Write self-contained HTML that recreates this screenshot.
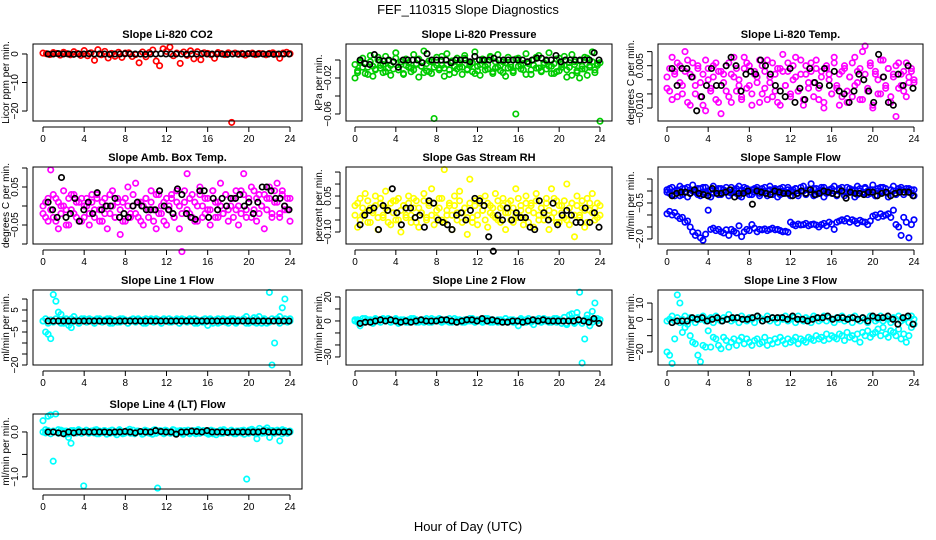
<!DOCTYPE html>
<html><head><meta charset="utf-8"><style>
html,body{margin:0;padding:0;background:#fff;}
svg{display:block;font-family:"Liberation Sans",sans-serif;}
</style></head><body>
<svg id="chart" width="936" height="540" viewBox="0 0 936 540">
<rect x="0" y="0" width="936" height="540" fill="#fff"/>
<text x="468" y="14" text-anchor="middle" font-size="13">FEF_110315  Slope Diagnostics</text>
<text x="468" y="531" text-anchor="middle" font-size="13">Hour of Day (UTC)</text>
</svg>
<script>
// ---------- data ----------
const hourTicks = [0,4,8,12,16,20,24];
const panelTitles = ["Slope Li-820 CO2","Slope Li-820 Pressure","Slope Li-820 Temp.","Slope Amb. Box Temp.","Slope Gas Stream RH","Slope Sample Flow","Slope Line 1 Flow","Slope Line 2 Flow","Slope Line 3 Flow","Slope Line 4 (LT) Flow"];
const yAxisTitles = ["Licor ppm per min.","kPa per min.","degrees C per min.","degrees C per min.","percent per min.","ml/min per min.","ml/min per min.","ml/min per min.","ml/min per min.","ml/min per min."];

const co2Red = [0.3,0.1,-0.2,0.5,0.2,-0.4,0.6,0.1,-0.3,0.8,0.2,-0.5,1.2,-0.6,0.4,-2.2,1.5,-0.3,0.9,-1.4,0.2,-0.8,0.6,-1.2,0.3,0.4,-0.9,-0.2,-3.1,0.7,-1.0,0.5,1.4,-2.5,-4.1,1.8,0.9,2.4,-0.6,0.3,-3.3,0.7,-0.5,1.1,-1.7,0.8,-2.0,0.4,0.2,-0.3,-1.5,0.5,0.1,-0.2,0.4,-24.0,0.3,-0.1,0.2,-0.4,0.1,0.3,-0.2,0.2,0.1,-0.3,0.2,0.4,-0.1,-1.5,0.3,0.6,0.1];
const co2Black = [0,0,0.1,0,0,-0.1,0,0,0.1,0,0,0,-0.1,0,0,0.1,0,0,0,-0.1,0,0,0.1,0,0,0,0,-0.1,0,0,0.1,0,0,0,0,-0.1,0,0,0,0.1,0,0,0,0,-0.1,0,0,0];

const pressGreen = [-0.020,-0.012,-0.003,0.002,-0.015,-0.008,0.005,-0.018,-0.010,0.000,-0.006,-0.014,0.004,-0.009,-0.017,-0.002,0.008,-0.011,-0.005,-0.016,0.001,-0.008,-0.013,0.006,-0.004,-0.019,-0.007,0.010,-0.012,-0.001,-0.015,-0.065,0.003,-0.009,-0.006,-0.018,0.007,-0.011,-0.003,-0.014,0.002,-0.008,-0.016,0.005,-0.010,-0.004,-0.013,0.009,-0.007,-0.017,0.001,-0.011,-0.005,0.004,-0.015,-0.009,0.006,-0.012,-0.002,-0.018,0.003,-0.008,-0.014,-0.060,0.002,-0.006,-0.011,0.007,-0.004,-0.016,0.000,-0.009,0.005,-0.013,-0.003,-0.010,0.008,-0.007,-0.015,0.001,-0.012,-0.005,0.004,-0.019,-0.008,0.006,-0.002,-0.014,-0.020,-0.010,0.003,-0.017,-0.006,0.009,-0.011,-0.004,-0.068];
const pressGreen2 = [-0.005,-0.014,-0.001,-0.008,-0.004,-0.016,-0.002,-0.007,-0.011,0.003,-0.009,-0.005,-0.013,-0.001,-0.006,-0.010,0.002,-0.008,-0.002,-0.015,-0.006,-0.003,-0.009,-0.011,-0.005,0.001,-0.007,-0.014,-0.004,-0.013,-0.002,-0.008,-0.006,-0.011,0.004,-0.009,-0.005,-0.016,-0.001,-0.007,-0.010,-0.004,-0.008,0.002,-0.011,-0.006,-0.003,-0.015,-0.012,-0.005,-0.001,-0.007,-0.010,0.003,-0.013,-0.002,-0.008,-0.006,-0.014,-0.003,-0.009,-0.005,-0.012,0.001,-0.007,-0.010,-0.004,-0.016,-0.002,-0.011,-0.006,0.003,-0.009,-0.012,-0.005,-0.001,-0.007,-0.015,-0.004,-0.013,0.002,-0.008,-0.006,-0.011,-0.003,-0.017,-0.005,-0.012,-0.001,-0.007,-0.010,0.002,-0.008,-0.002,-0.014,-0.006,-0.003];
const pressBlack = [0.000,-0.004,-0.005,0.006,0.000,-0.001,0.000,-0.002,-0.008,0.000,0.000,0.000,0.000,-0.003,0.007,0.000,0.000,0.000,0.000,-0.003,0.000,0.000,0.000,-0.002,0.004,0.000,0.000,0.000,0.002,0.000,0.000,0.000,0.000,0.000,0.000,-0.002,0.000,0.002,0.002,0.000,0.000,0.005,-0.002,0.000,0.000,0.000,0.000,0.000,0.000,0.008,0.000];

const tempMag = [0.001,-0.004,0.008,0.003,-0.006,0.005,-0.002,0.010,-0.008,0.002,0.006,-0.005,0.004,-0.001,-0.009,0.007,0.000,-0.003,0.005,-0.007,0.003,-0.012,0.002,-0.004,0.006,-0.008,0.001,0.004,-0.002,-0.006,0.008,-0.003,0.005,-0.009,0.002,-0.001,0.007,-0.005,0.003,-0.007,0.001,0.006,-0.004,-0.008,0.004,0.009,-0.002,0.003,-0.006,0.005,0.001,-0.004,0.007,-0.009,0.002,-0.003,0.006,-0.001,0.004,-0.007,0.003,-0.010,0.005,0.000,-0.005,0.008,-0.003,0.002,-0.006,0.004,-0.008,0.001,0.006,-0.002,0.003,-0.007,0.010,0.012,-0.004,0.005,-0.009,0.002,-0.005,0.007,0.001,-0.003,0.004,-0.008,0.002,-0.013,0.006,-0.002,0.003,-0.006,0.001,0.004,-0.001];
const tempMag2 = [-0.003,0.004,-0.007,0.002,0.006,-0.001,-0.005,0.003,0.007,-0.009,0.001,-0.002,0.005,-0.006,0.002,-0.011,0.004,-0.004,0.001,0.006,-0.008,0.003,-0.001,0.005,-0.006,0.002,0.008,-0.004,0.000,-0.007,0.004,0.006,-0.002,-0.005,0.003,0.001,-0.008,0.005,-0.003,0.007,-0.001,-0.006,0.002,0.004,-0.009,0.003,-0.002,0.006,-0.005,0.000,0.008,-0.004,0.002,-0.007,0.005,-0.001,0.003,-0.006,0.007,-0.003,0.001,-0.008,0.004,0.002,-0.005,0.006,-0.002,-0.009,0.003,0.005,-0.004,0.001,-0.006,0.008,-0.001,0.004,-0.007,0.002,-0.003,0.006,-0.010,0.003,0.000,-0.005,0.007,-0.002,0.004,-0.006,0.001,0.005,-0.003,0.002,-0.004,0.006,-0.001,0.003,0.000];
const tempBlack = [0.004,-0.002,0.004,0.004,0.001,-0.011,-0.006,-0.002,0.004,-0.002,-0.002,0.005,0.008,0.005,-0.004,0.002,0.003,0.002,0.007,0.005,0.002,-0.002,-0.004,-0.006,0.004,-0.008,-0.003,-0.007,0.004,-0.001,-0.002,0.004,-0.002,0.003,-0.004,-0.005,-0.008,-0.004,0.002,0.000,-0.004,-0.008,0.009,0.001,-0.008,-0.009,0.002,-0.002,0.005,-0.003];

const ambMag = [-0.02,0.01,-0.04,0.095,-0.03,0.02,-0.06,0.00,0.04,-0.01,-0.05,0.03,-0.02,0.01,-0.04,0.02,-0.03,0.00,-0.05,0.03,-0.01,0.02,-0.04,0.01,-0.02,-0.06,0.03,0.00,-0.03,0.02,-0.075,0.01,-0.04,0.05,-0.02,0.00,0.06,-0.03,0.01,-0.05,0.02,-0.01,0.04,-0.04,-0.06,0.03,-0.02,0.01,-0.05,0.00,0.02,-0.03,0.04,-0.06,-0.12,0.01,0.085,-0.02,0.03,-0.04,0.00,0.05,-0.03,0.02,-0.01,-0.05,0.04,0.01,-0.03,0.06,-0.02,0.03,-0.04,0.00,0.02,-0.01,-0.05,0.04,0.085,-0.03,0.02,0.05,-0.01,-0.04,0.03,0.00,-0.06,0.02,0.05,-0.02,0.01,0.06,-0.03,0.04,-0.01,0.02,-0.04];
const ambMag2 = [0.00,-0.03,0.02,-0.01,0.03,-0.04,0.01,-0.02,0.00,-0.05,0.02,-0.01,0.03,-0.03,0.01,-0.04,0.00,0.02,-0.02,0.01,-0.03,0.03,-0.01,-0.04,0.02,0.00,-0.02,0.04,-0.03,0.01,-0.01,-0.04,0.02,0.00,-0.03,0.03,-0.02,0.01,-0.04,0.00,0.02,-0.03,0.01,-0.01,0.03,-0.02,0.00,-0.04,0.02,-0.01,0.03,-0.03,0.01,0.00,-0.02,0.04,-0.01,0.02,-0.03,0.01,-0.04,0.03,0.00,-0.02,0.02,-0.01,0.04,-0.03,0.01,0.00,-0.02,0.03,-0.01,0.02,-0.03,0.04,0.00,-0.02,0.03,-0.01,0.01,-0.03,0.04,0.02,-0.02,0.00,0.03,-0.01,0.02,-0.03,0.04,0.01,-0.02,0.03,0.00,-0.01,0.02];
const ambBlack = [0.01,-0.01,-0.03,0.075,-0.03,-0.02,0.02,-0.04,-0.01,0.01,-0.02,0.035,-0.01,0.00,0.00,0.02,-0.03,-0.02,-0.03,0.00,0.01,0.00,-0.01,-0.01,-0.01,0.04,0.00,-0.01,-0.02,0.045,0.03,-0.02,-0.03,-0.035,0.04,0.04,-0.03,0.02,-0.01,0.02,0.00,0.02,0.02,0.03,0.00,0.01,-0.02,0.01,0.05,0.05,0.04,0.02,0.02,0.00,-0.01];

const rhYellow = [0.01,-0.08,0.04,-0.03,0.06,-0.06,0.00,-0.02,0.05,-0.09,0.02,-0.04,0.07,-0.01,-0.07,0.03,-0.05,0.04,-0.10,0.01,-0.03,0.05,-0.06,0.00,0.03,-0.08,-0.02,0.06,-0.04,0.02,0.08,-0.07,-0.01,0.04,-0.05,0.16,-0.03,0.01,-0.09,0.05,-0.02,0.07,-0.06,0.00,-0.11,0.12,-0.04,0.03,-0.07,0.02,-0.01,0.05,-0.08,0.01,-0.03,0.06,-0.05,0.00,0.04,-0.09,-0.02,0.03,-0.06,0.08,-0.04,0.01,-0.07,0.05,-0.01,0.02,-0.08,0.06,-0.03,0.00,-0.05,0.04,-0.09,0.08,-0.02,0.03,-0.06,0.01,-0.04,0.10,-0.07,0.02,-0.12,0.05,-0.03,0.00,-0.08,0.04,-0.01,0.06,-0.05,0.02,-0.03];
const rhYellow2 = [-0.03,0.02,-0.05,0.00,-0.02,0.03,-0.06,-0.01,0.01,-0.04,0.04,-0.03,0.00,-0.06,0.02,-0.02,0.03,-0.05,-0.01,0.01,-0.04,0.02,-0.03,0.04,-0.06,0.00,-0.02,0.03,-0.05,0.01,-0.03,0.02,-0.04,0.00,0.04,-0.06,-0.01,0.02,-0.03,0.01,-0.05,0.03,-0.02,0.00,-0.04,0.02,-0.06,0.01,-0.03,0.04,-0.01,-0.05,0.02,-0.02,0.00,-0.04,0.03,-0.06,0.01,-0.02,0.02,-0.05,0.00,-0.03,0.04,-0.01,-0.04,0.02,-0.06,0.01,-0.02,0.03,-0.05,0.00,-0.03,0.02,-0.01,-0.04,0.04,-0.06,0.01,-0.02,0.03,-0.05,0.00,0.02,-0.03,0.01,-0.04,0.03,-0.01,-0.06,0.02,-0.02,0.00,-0.04,0.01];
const rhBlack = [-0.07,-0.03,-0.01,0.00,-0.09,0.01,-0.01,0.08,-0.02,-0.07,0.00,0.00,-0.04,-0.03,-0.08,0.03,0.02,-0.05,-0.06,-0.07,-0.09,-0.03,-0.02,-0.05,-0.01,0.04,0.03,0.01,-0.12,-0.18,-0.03,-0.05,0.00,-0.05,-0.02,-0.04,-0.04,-0.08,-0.09,0.03,-0.02,-0.05,0.02,-0.07,-0.03,-0.01,-0.03,-0.06,-0.06,0.00,-0.06,-0.02,-0.08];

const flowBlueTop = [0.05,-0.10,0.15,-0.20,0.00,0.20,-0.15,0.10,-0.25,0.05,0.25,-0.05,0.10,-0.20,0.15,-0.10,0.00,-0.25,0.20,0.05,-0.15,0.10,-0.05,0.00,-0.20,0.15,0.05,-0.10,0.20,-0.25,0.00,0.10,-0.15,0.05,-0.05,0.15,-0.20,0.10,0.00,-0.10,0.20,-0.15,0.05,-0.25,0.10,0.00,-0.05,0.15,-0.20,0.05,0.10,-0.10,0.00,0.20,-0.15,0.05,0.30,-0.20,0.10,-0.05,0.15,-0.25,0.00,0.05,-0.10,0.20,-0.15,0.10,0.00,-0.20,0.15,-0.05,0.05,-0.25,0.20,0.00,-0.10,0.10,-0.15,0.05,0.25,-0.20,0.00,0.15,-0.05,0.10,-0.25,0.05,0.20,-0.10,0.00,0.15,-0.15,0.10,-0.05,0.05,-0.20];
const flowBlueTop2 = [-0.05,0.10,-0.15,0.00,0.05,-0.20,0.10,-0.05,0.15,-0.10,0.00,0.05,-0.15,0.10,-0.05,0.15,-0.20,0.05,-0.10,0.00,0.10,-0.15,0.05,0.15,-0.05,-0.10,0.00,0.10,-0.20,0.05,0.15,-0.05,0.00,-0.15,0.10,0.05,-0.10,0.00,0.15,-0.20,0.05,-0.05,0.10,0.00,-0.15,0.15,-0.10,0.05,0.00,-0.05,0.10,-0.20,0.15,0.00,-0.10,0.05,-0.05,0.10,-0.15,0.00,0.05,0.15,-0.10,-0.05,0.10,0.00,-0.20,0.05,0.15,-0.05,-0.10,0.10,0.00,0.05,-0.15,0.10,-0.05,0.15,0.00,-0.10,0.05,-0.20,0.10,0.00,0.15,-0.05,-0.10,0.05,0.00,-0.15,0.10,0.05,-0.05,0.00,0.10,-0.10,0.05];
const flowBlueLow = [-0.95,-0.85,-1.00,-0.90,-1.05,-1.15,-1.10,-1.30,-1.25,-1.50,-1.70,-1.85,-1.75,-1.95,-2.05,-1.80,-0.80,-1.60,-1.55,-1.65,-1.60,-1.70,-1.75,-1.62,-1.85,-1.60,-1.68,-1.75,-1.45,-1.90,-1.70,-1.60,-1.65,-1.40,-1.55,-1.70,-1.60,-1.62,-1.58,-1.65,-1.60,-1.55,-1.62,-1.60,-1.65,-1.70,-1.68,-1.72,-1.30,-1.40,-1.45,-1.38,-1.42,-1.40,-1.35,-1.45,-1.40,-1.38,-1.42,-1.50,-1.40,-1.35,-1.45,-1.30,-1.38,-1.60,-1.30,-1.25,-1.20,-1.25,-1.15,-1.30,-1.20,-1.25,-1.35,-1.22,-1.28,-1.30,-1.40,-1.25,-1.05,-1.00,-1.10,-0.95,-1.05,-1.00,-0.95,-1.10,-0.80,-1.40,-1.50,-1.85,-1.10,-1.30,-1.95,-1.40,-1.20];
const flowBlack = [-0.20,-0.10,-0.05,-0.05,-0.10,0.05,-0.10,-0.15,-0.20,0.10,-0.10,-0.10,-0.05,0.05,-0.25,-0.10,-0.10,0.00,-0.55,0.00,-0.05,-0.10,-0.15,0.00,-0.05,-0.10,-0.10,-0.20,-0.10,0.00,-0.10,0.05,-0.15,-0.10,0.00,-0.05,-0.10,-0.15,0.00,-0.30,-0.05,-0.10,-0.10,-0.15,-0.05,-0.05,-0.20,-0.10,-0.05,-0.20,-0.10,-0.05,-0.05,-0.05,-0.20];

const line1Cyan = [0,-5,-6,-8,12,9,4,3,-1,1,-2,-3,2,0,-1,1,0.5,-0.5,1,0,-1,0.5,1,-0.5,0,1,-1,0.5,0,-0.5,1,0,0.5,-1,0,1,-0.5,0.5,0,-1,1,0,0.5,-0.5,1,0,-1,0.5,0,1,-0.5,0,0.5,-1,1,0,-0.5,0.5,0,1,-1,0,0.5,-0.5,-2,1,0,0.5,-1,0,1,-0.5,0.5,0,1,-1,0.5,0,1,2,-1,0.5,1.5,-1,2,0,1,-1,13,-20,-10,1,2,6,10,0,1];
const line1Cyan2 = [0,1,-1,0.5,-0.5,1,0,-1,0.5,0,-0.5,1,0,0.5,-1,0,1,-0.5,0,0.5,-1,1,0,-0.5,0.5,0,1,-1,0,0.5,-0.5,1,0,-1,0.5,0,-0.5,1,0,0.5,-1,0,1,-0.5,0,0.5,-1,1,0,-0.5,0.5,0,1,-1,0,0.5,-0.5,1,0,-1,0.5,0,-0.5,1,0,0.5,-1,0,1,-0.5,0,0.5,-1,1,0,-0.5,0.5,0,1,-1,0,0.5,-0.5,1,0,-1,0.5,0,-0.5,1,0,0.5,-1,0,1,-0.5,0];
const line1Black = [0,0,0,0,0,0,0,0,0,0,0,0,0,0,0,0,0,0,0,0,0,0,0,0,0,0,0,0,0,0,0,0,0,0,0,0,0,0,0,0,0,0,0,0,0,0,0,0];

const line2Cyan = [0,1,-4,-1,2,0,1,-1,2,0,-1,1,0,2,-1,0,1,-2,0,1,0,-1,2,0,1,-1,0,1,0,-1,2,0,1,0,-1,1,0,2,-1,0,1,0,-1,1,0,2,0,-1,1,0,-1,2,0,1,-1,0,1,0,-1,2,0,1,-1,0,-4,1,0,-1,2,0,-3,1,0,-1,2,0,1,-1,0,2,1,-2,3,-3,5,6,-2,7,24,-35,-15,5,-4,8,15,2,1];
const line2Cyan2 = [1,-1,0,2,-1,1,0,-2,1,0,-1,2,0,1,-1,0,2,-1,1,0,-1,1,0,2,-1,0,1,-1,2,0,-1,1,0,2,-1,0,1,-1,0,2,-1,1,0,-1,1,0,2,-1,0,1,-1,0,2,-1,1,0,-1,1,0,2,-1,0,1,-1,0,2,-1,1,0,-1,1,0,2,-1,0,1,-1,0,2,-1,1,0,3,-2,1,2,-1,3,0,-2,1,2,0,-1,1,0,1];
const line2Black = [-2,-1,-1,0,1,0,1,0,-1,0,-1,0,1,0,0,0,1,1,0,-1,0,1,1,0,2,0,1,0,-1,-1,0,0,-1,0,1,0,1,0,0,0,0,0,0,1,0,-1,2,-2];

const line3CyanTop = [-1,0,2,-1,1,-2,0,2,-1,1,0,-2,1,0,2,-1,0,1,-2,2,0,-1,1,0,3,-1,0,1,-2,2,0,-1,1,0,-2,2,1,-1,0,2,-1,1,0,-2,1,0,2,-1,0,1,-2,2,0,-1,1,0,-2,2,1,-1,0,2,-1,1,0,-2,1,0,2,-1,0,1,-2,2,0,-1,1,0,-2,2,1,-1,0,2,-1,1,0,-2,1,0,2,-1,0,1,-2,2,0];
const line3CyanLow = [-20,-22,-27,-12,15,10,-8,-5,-3,-10,-14,-15,-22,-26,-16,-17,-7,-17,-11,-12,-16,-18,-11,-13,-17,-14,-12,-16,-13,-11,-15,-12,-14,-16,-13,-12,-15,-14,-11,-16,-13,-15,-12,-14,-11,-13,-15,-12,-14,-13,-11,-15,-12,-13,-14,-11,-12,-13,-10,-12,-11,-13,-9,-12,-10,-11,-12,-9,-10,-13,-8,-11,-10,-12,-9,-14,-8,-10,-7,-11,-9,-8,-6,-10,-5,-9,-11,-7,-8,-10,-6,-12,-9,-14,-10,-5,-3];
const line3Black = [-2,-1,-1,-1,1,0,1,-1,0,1,-1,0,1,1,0,0,1,2,-1,0,1,1,1,0,2,0,0,-1,0,1,1,2,0,1,1,0,1,0,1,-1,2,1,1,2,0,-3,1,2,-3];

const line4Cyan = [0.25,0.05,0.35,0.38,-0.65,0.40,0.05,-0.02,0.02,-0.05,-0.12,-0.25,0.03,-0.02,0.05,0.02,-1.20,0.04,-0.03,0.02,-0.02,0.05,-0.04,0.00,0.03,-0.05,0.02,0.04,-0.02,-0.06,0.05,0.00,-0.03,0.03,0.06,-0.02,-0.04,0.02,0.00,-0.05,0.04,0.02,-0.03,-0.05,0.05,-1.25,0.03,-0.02,0.04,0.00,-0.03,0.05,-0.04,0.02,0.03,-0.05,0.00,0.04,-0.02,0.03,-0.04,0.05,0.00,0.03,-0.02,-0.05,0.04,0.02,-0.06,0.01,-0.03,0.05,0.00,-0.02,0.04,-0.04,0.02,0.00,0.03,-0.05,-1.05,0.04,0.06,-0.02,-0.15,0.08,-0.03,0.05,0.09,-0.12,0.03,0.02,0.04,-0.20,0.05,0.00,-0.03,0.02];
const line4Cyan2 = [0.00,-0.02,0.03,-0.04,0.02,0.00,-0.03,0.04,-0.01,0.02,-0.04,0.03,0.00,-0.02,0.04,-0.03,0.01,0.03,-0.02,0.00,0.04,-0.04,0.02,-0.01,0.03,0.00,-0.03,0.04,-0.02,0.01,0.03,-0.04,0.00,0.02,-0.03,0.04,-0.01,0.02,0.00,-0.04,0.03,-0.02,0.01,0.04,-0.03,0.00,0.02,-0.04,0.03,-0.01,0.00,0.04,-0.02,0.01,-0.03,0.03,0.00,-0.04,0.02,-0.01,0.04,-0.03,0.00,0.02,-0.02,0.03,-0.04,0.01,0.00,0.04,-0.03,0.02,-0.01,0.03,0.00,-0.04,0.02,-0.02,0.04,0.01,-0.03,0.00,0.03,-0.04,0.02,0.00,-0.02,0.04,-0.01,0.03,-0.03,0.00,0.02,-0.04,0.03,0.01,0.00];
const line4Black = [0.00,0.00,-0.02,-0.04,0.00,-0.02,0.00,0.00,0.00,0.00,0.00,0.00,-0.01,0.00,0.00,0.01,0.00,-0.02,0.01,0.00,0.00,0.03,0.01,0.00,0.00,-0.05,0.00,0.00,0.02,0.01,0.00,0.03,0.00,0.00,0.00,-0.01,0.00,0.00,0.00,0.00,0.00,0.00,0.02,0.00,0.00,0.00,0.00,0.00];

// ---------- layout ----------
const cols = [{x0:33,x1:302,h0:43,h24:290},{x0:346,x1:612,h0:355,h24:600},{x0:658,x1:923,h0:667,h24:914}];
const rows = [{y0:44,y1:121},{y0:167,y1:244},{y0:290,y1:365},{y0:414,y1:489}];
const panels = [
 {c:0,r:0,dom:[-23.5,3.5],ticks:[0,-10,-20],labels:[0,-10,-20],series:[[co2Red,"#ff0000",0],[co2Black,"#000",1]]},
 {c:1,r:0,dom:[-0.0678,0.0178],ticks:[0,-0.02,-0.04,-0.06],labels:[-0.02,-0.06],series:[[pressGreen,"#00cc00",0],[pressGreen2,"#00cc00",0],[pressBlack,"#000",1]]},
 {c:2,r:0,dom:[-0.0146,0.0127],ticks:[0.010,0.005,0,-0.005,-0.010],labels:["0.005","-0.010"],series:[[tempMag,"#ff00ff",0],[tempMag2,"#ff00ff",0],[tempBlack,"#000",1]]},
 {c:0,r:1,dom:[-0.1,0.1026],ticks:[0.10,0.05,0,-0.05,-0.10],labels:[0.05,-0.05],series:[[ambMag,"#ff00ff",0],[ambMag2,"#ff00ff",0],[ambBlack,"#000",1]]},
 {c:1,r:1,dom:[-0.15,0.171],ticks:[0.15,0.10,0.05,0,-0.05,-0.10],labels:["0.05","-0.10"],series:[[rhYellow,"#ffff00",0],[rhYellow2,"#ffff00",0],[rhBlack,"#000",1]]},
 {c:2,r:1,dom:[-2.21,1.0],ticks:[0.5,0,-0.5,-1.0,-1.5,-2.0],labels:["-0.5","-2.0"],series:[[flowBlueTop,"#0000ff",0],[flowBlueTop2,"#0000ff",0],[flowBlueLow,"#0000ff",0],[flowBlack,"#000",1]]},
 {c:0,r:2,dom:[-20,14.1],ticks:[10,5,0,-5,-10,-15,-20],labels:[5,-5,-20],series:[[line1Cyan,"#00ffff",0],[line1Cyan2,"#00ffff",0],[line1Black,"#000",1]]},
 {c:1,r:2,dom:[-36.7,25.8],ticks:[20,10,0,-10,-20,-30],labels:[20,0,-30],series:[[line2Cyan,"#00ffff",0],[line2Cyan2,"#00ffff",0],[line2Black,"#000",1]]},
 {c:2,r:2,dom:[-28,18],ticks:[10,0,-10,-20],labels:[10,0,-20],series:[[line3CyanTop,"#00ffff",0],[line3CyanLow,"#00ffff",0],[line3Black,"#000",1]]},
 {c:0,r:3,dom:[-1.27,0.4],ticks:[0,-0.5,-1.0],labels:["0.0","-1.0"],series:[[line4Cyan,"#00ffff",0],[line4Cyan2,"#00ffff",0],[line4Black,"#000",1]]}
];

const NS="http://www.w3.org/2000/svg";
const svg=document.getElementById("chart");
function mk(tag,attrs,parent){const e=document.createElementNS(NS,tag);for(const k in attrs)e.setAttribute(k,attrs[k]);(parent||svg).appendChild(e);return e;}
function fmt(v){return String(v).replace("-","\u2212");}

panels.forEach((p,pi)=>{
  const C=cols[p.c],R=rows[p.r];
  const g=mk("g",{});
  
  
  const xs=h=>C.h0+(C.h24-C.h0)*h/24;
  const ys=v=>R.y1-(v-p.dom[0])/(p.dom[1]-p.dom[0])*(R.y1-R.y0);
  p.series.forEach(([arr,col,isBlack],si)=>{
    const sg=mk("g",{fill:"none",stroke:col,"stroke-width":1.7},g);
    
    
    const t0=isBlack?0.5:0, t1=isBlack?23.9:24;
    const n=arr.length;
    arr.forEach((v,i)=>{
      const h=t0+(t1-t0)*i/(n-1);
      const c=mk("circle",{cx:xs(h).toFixed(1),cy:ys(v).toFixed(1),r:2.7},sg);
      
      
    });
  });
  const box=mk("rect",{x:C.x0,y:R.y0,width:C.x1-C.x0,height:R.y1-R.y0,fill:"none",stroke:"#000","stroke-width":1},g);
  
  
  const xa=mk("g",{},g);
  
  
  mk("line",{x1:xs(0),x2:xs(24),y1:R.y1+6,y2:R.y1+6,stroke:"#000"},xa);
  hourTicks.forEach(h=>{
    mk("line",{x1:xs(h),x2:xs(h),y1:R.y1+6,y2:R.y1+11,stroke:"#000"},xa);
    const t=mk("text",{x:xs(h),y:R.y1+21,"text-anchor":"middle","font-size":10},xa);
    t.textContent=h;
    
    
  });
  const ya=mk("g",{},g);
  
  
  const ax=C.x0-6;
  mk("line",{x1:ax,x2:ax,y1:ys(Math.max(...p.ticks)),y2:ys(Math.min(...p.ticks)),stroke:"#000"},ya);
  p.ticks.forEach(v=>mk("line",{x1:ax-5,x2:ax,y1:ys(v),y2:ys(v),stroke:"#000"},ya));
  p.labels.forEach(v=>{
    const y=ys(parseFloat(v));
    const t=mk("text",{x:0,y:0,"text-anchor":"middle","font-size":10,transform:`translate(${ax-9},${y}) rotate(-90)`},ya);
    t.textContent=fmt(v);
    
    
  });
  const yt=mk("text",{x:0,y:0,"text-anchor":"middle","font-size":10,transform:`translate(${C.x0-24},${(R.y0+R.y1)/2}) rotate(-90)`},g);
  yt.textContent=yAxisTitles[pi];
  
  
  const tt=mk("text",{x:(C.x0+C.x1)/2,y:R.y0-6,"text-anchor":"middle","font-size":11,"font-weight":"bold"},g);
  tt.textContent=panelTitles[pi];
  
  
});
</script>
</body></html>
